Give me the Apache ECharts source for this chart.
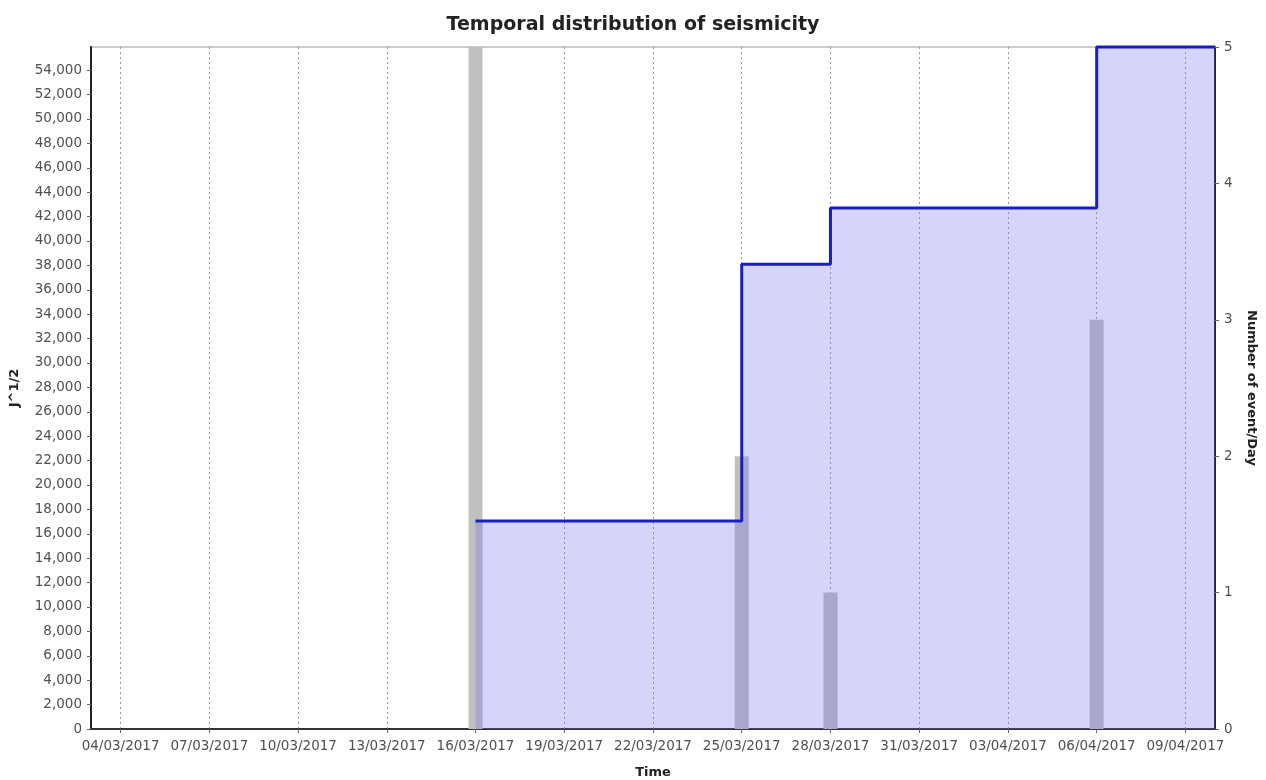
<!DOCTYPE html>
<html>
<head>
<meta charset="utf-8">
<script src="https://cdn.jsdelivr.net/npm/echarts@6/dist/echarts.min.js"></script>
<style>html,body{margin:0;padding:0;background:#fff;}#c{width:1266px;height:780px;}</style>
</head>
<body>
<div id="c"></div>
<script>
// ---- data ----
const titleText = 'Temporal distribution of seismicity';
const xAxisStart = '03/03/2017';
const xAxisEnd = '10/04/2017';
const xTickDates = ['04/03/2017','07/03/2017','10/03/2017','13/03/2017','16/03/2017','19/03/2017','22/03/2017','25/03/2017','28/03/2017','31/03/2017','03/04/2017','06/04/2017','09/04/2017'];
const eventDates = ['16/03/2017','25/03/2017','28/03/2017','06/04/2017'];
const eventsPerDay = [5, 2, 1, 3];
const cumDates = ['16/03/2017','25/03/2017','28/03/2017','06/04/2017','10/04/2017'];
const cumSqrtEnergy = [17050, 38100, 42700, 55900, 55900];
const leftMax = 55900;
const rightMax = 5;

// ---- helpers ----
const ORIGIN = Date.UTC(2017, 2, 4);
function toDay(s) {
  const p = s.split('/');
  return Math.round((Date.UTC(+p[2], +p[1] - 1, +p[0]) - ORIGIN) / 86400000);
}
function fmtDay(v) {
  const d = new Date(ORIGIN + Math.round(v) * 86400000);
  const dd = String(d.getUTCDate()).padStart(2, '0');
  const mm = String(d.getUTCMonth() + 1).padStart(2, '0');
  return dd + '/' + mm + '/' + d.getUTCFullYear();
}
const tickVals = xTickDates.map(toDay);
const barData = eventDates.map((d, i) => [toDay(d), eventsPerDay[i]]);
const lineData = cumDates.map((d, i) => [toDay(d), cumSqrtEnergy[i]]);

const labelFont = { fontFamily: 'DejaVu Sans', fontSize: 13.5, color: '#505050' };
const nameFont = { fontFamily: 'DejaVu Sans', fontSize: 13, fontWeight: 'bold', color: '#222' };

const chart = echarts.init(document.getElementById('c'), null, { renderer: 'canvas' });
chart.setOption({
  animation: false,
  backgroundColor: '#ffffff',
  title: {
    text: titleText, left: 'center', top: 11,
    textStyle: { fontFamily: 'DejaVu Sans', fontSize: 19, fontWeight: 'bold', color: '#222' }
  },
  grid: { left: 91, right: 51, top: 47, bottom: 51, outerBoundsMode: 'none', containLabel: false,
          show: true, borderColor: '#999', borderWidth: 1, backgroundColor: 'transparent' },
  xAxis: {
    type: 'value', min: toDay(xAxisStart), max: toDay(xAxisEnd),
    name: 'Time', nameLocation: 'middle', nameGap: 37, nameTextStyle: nameFont,
    axisLine: { show: true, onZero: false, lineStyle: { color: '#333', width: 2 } },
    axisTick: { show: true, length: 4, customValues: tickVals, lineStyle: { color: '#666' } },
    axisLabel: Object.assign({ customValues: tickVals, margin: 10, formatter: fmtDay }, labelFont),
    splitLine: { show: true, lineStyle: { color: '#9a9a9a', type: [2, 3], width: 1 } }
  },
  yAxis: [
    {
      type: 'value', min: 0, max: leftMax, interval: 2000, position: 'left',
      name: 'J^1/2', nameLocation: 'middle', nameGap: 70, nameTextStyle: nameFont,
      axisLine: { show: true, onZero: false, lineStyle: { color: '#222', width: 2 } },
      axisTick: { show: true, length: 4, lineStyle: { color: '#666' } },
      axisLabel: Object.assign({ margin: 9, showMaxLabel: false, formatter: v => v.toLocaleString('en-US') }, labelFont),
      splitLine: { show: false }
    },
    {
      type: 'value', min: 0, max: rightMax, interval: 1, position: 'right',
      name: 'Number of event/Day', nameLocation: 'middle', nameGap: 30, nameRotate: -90, nameTextStyle: nameFont,
      axisLine: { show: true, onZero: false, lineStyle: { color: '#223', width: 2 } },
      axisTick: { show: true, length: 4, lineStyle: { color: '#666' } },
      axisLabel: Object.assign({ margin: 9 }, labelFont),
      splitLine: { show: false }
    }
  ],
  series: [
    {
      type: 'bar', yAxisIndex: 1, data: barData, barWidth: 14, z: 1,
      itemStyle: { color: '#c0c0c0' }
    },
    {
      type: 'line', yAxisIndex: 0, data: lineData, step: 'end', z: 3, clip: false,
      symbol: 'none',
      lineStyle: { color: '#1c1cc4', width: 3 },
      areaStyle: { color: 'rgba(110,110,240,0.29)', opacity: 1, origin: 'start' }
    }
  ]
});
</script>
</body>
</html>
